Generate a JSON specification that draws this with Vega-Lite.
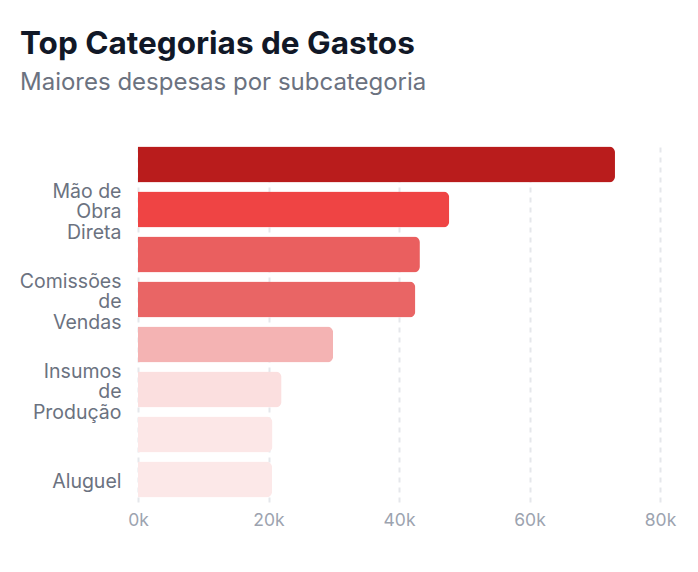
{
  "$schema": "https://vega.github.io/schema/vega-lite/v6.json",
  "autosize": {"type": "none"},
  "width": 522,
  "height": 360,
  "padding": {"left": 138, "top": 142, "right": 38, "bottom": 70},
  "background": "#ffffff",
  "title": {
    "text": "Top Categorias de Gastos",
    "subtitle": "Maiores despesas por subcategoria",
    "anchor": "start",
    "frame": "group",
    "dx": -118,
    "offset": 47,
    "font": "Inter",
    "fontSize": 31.5,
    "fontWeight": 700,
    "color": "#111827",
    "subtitleFont": "Inter",
    "subtitleFontSize": 24,
    "subtitleFontWeight": 400,
    "subtitleColor": "#6B7280",
    "subtitlePadding": 11
  },
  "data": {
    "values": [
      {"categoria": "Matéria-Prima", "valor": 73100},
      {"categoria": "Mão de Obra Direta", "valor": 47700},
      {"categoria": "Salários Administrativos", "valor": 43200},
      {"categoria": "Comissões de Vendas", "valor": 42500},
      {"categoria": "Marketing", "valor": 29900},
      {"categoria": "Insumos de Produção", "valor": 22000},
      {"categoria": "Energia Elétrica", "valor": 20600},
      {"categoria": "Aluguel", "valor": 20550}
    ]
  },
  "mark": {"type": "bar", "cornerRadiusEnd": 6},
  "encoding": {
    "y": {
      "field": "categoria",
      "type": "nominal",
      "sort": ["Matéria-Prima", "Mão de Obra Direta", "Salários Administrativos", "Comissões de Vendas", "Marketing", "Insumos de Produção", "Energia Elétrica", "Aluguel"],
      "scale": {"paddingInner": 0.2, "paddingOuter": 0.1},
      "axis": {
        "title": null,
        "values": ["Mão de Obra Direta", "Comissões de Vendas", "Insumos de Produção", "Aluguel"],
        "labelExpr": "datum.value == 'Mão de Obra Direta' ? ['Mão de', 'Obra', 'Direta'] : datum.value == 'Comissões de Vendas' ? ['Comissões', 'de', 'Vendas'] : datum.value == 'Insumos de Produção' ? ['Insumos', 'de', 'Produção'] : datum.label",
        "labelOffset": {"condition": {"test": "datum.value == 'Aluguel'", "value": 2}, "value": -18},
        "labelFont": "Inter",
        "labelFontSize": 19.5,
        "labelLineHeight": 20.5,
        "labelColor": "#6B7280",
        "labelPadding": 17,
        "ticks": false,
        "domain": false,
        "grid": false
      }
    },
    "x": {
      "field": "valor",
      "type": "quantitative",
      "scale": {"domain": [0, 80000], "nice": false},
      "axis": {
        "title": null,
        "values": [0, 20000, 40000, 60000, 80000],
        "labelExpr": "(datum.value / 1000) + 'k'",
        "labelFont": "Inter",
        "labelFontSize": 17.5,
        "labelColor": "#9CA3AF",
        "labelPadding": 9,
        "labelFlush": false,
        "ticks": false,
        "domain": false,
        "grid": true,
        "gridColor": "#E5E7EB",
        "gridDash": [5, 5],
        "gridWidth": 2
      }
    },
    "color": {
      "field": "categoria",
      "type": "nominal",
      "scale": {
        "domain": ["Matéria-Prima", "Mão de Obra Direta", "Salários Administrativos", "Comissões de Vendas", "Marketing", "Insumos de Produção", "Energia Elétrica", "Aluguel"],
        "range": ["#B91C1C", "#EF4444", "#EA5F5F", "#E96565", "#F4B3B3", "#FBDFDF", "#FCE7E7", "#FCE8E8"]
      },
      "legend": null
    }
  },
  "config": {
    "view": {"stroke": null}
  }
}
